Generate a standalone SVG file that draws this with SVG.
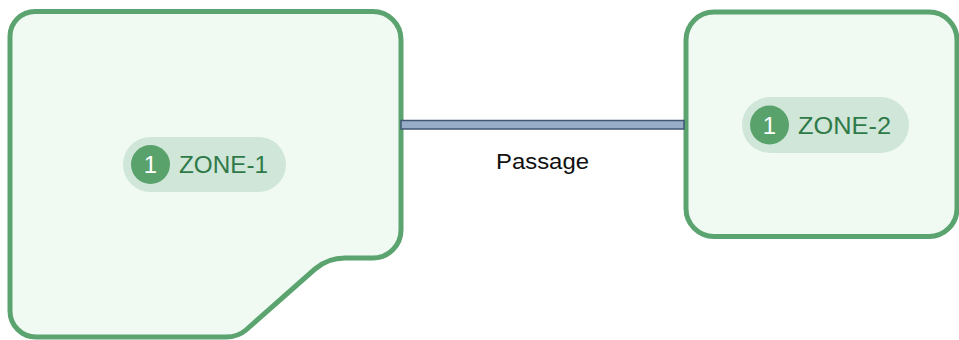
<svg xmlns="http://www.w3.org/2000/svg" width="959" height="340" viewBox="0 0 959 340">
  <style>
    .zone { fill: #f0faf3; stroke: #5ba46f; stroke-width: 5; }
    .pill { fill: #cfe6d8; }
    .badge { fill: #5aa26c; }
    .badge-txt { font-family: "Liberation Sans", Arial, sans-serif; font-size: 24px; fill: #ffffff; text-anchor: middle; }
    .zone-txt { font-family: "Liberation Sans", Arial, sans-serif; font-size: 24px; fill: #2f7a48; }
    .passage { fill: #98adc8; stroke: #3f5873; stroke-width: 1.5; }
    .label { font-family: "Liberation Sans", Arial, sans-serif; font-size: 22px; fill: #111111; }
  </style>
  <rect width="959" height="340" fill="#ffffff"/>
  <g id="zone-1">
    <path class="zone" d="M 35 11.5 H 373 A 28 28 0 0 1 401 39.5 V 230 A 28 28 0 0 1 373 258 H 345 Q 328 258 315 269 L 246 330 Q 238 337 226 337 H 36 A 26 26 0 0 1 10 311 V 36.5 A 25 25 0 0 1 35 11.5 Z"/>
    <rect class="pill" x="123" y="137" width="163" height="55" rx="27.5"/>
    <circle class="badge" cx="150.5" cy="164.5" r="19.5"/>
    <text class="badge-txt" x="150.5" y="173">1</text>
    <text class="zone-txt" x="179" y="173" textLength="89" lengthAdjust="spacingAndGlyphs">ZONE-1</text>
  </g>
  <g id="zone-2">
    <rect class="zone" x="686" y="12" width="271" height="224.5" rx="28"/>
    <rect class="pill" x="742" y="97" width="167" height="56" rx="28"/>
    <circle class="badge" cx="769.5" cy="125" r="19.5"/>
    <text class="badge-txt" x="769.5" y="133.5">1</text>
    <text class="zone-txt" x="798" y="133.5" textLength="93" lengthAdjust="spacingAndGlyphs">ZONE-2</text>
  </g>
  <g id="connectors">
    <rect class="passage" x="401" y="120.5" width="283" height="8.5"/>
    <text class="label" x="496" y="168.5" textLength="93" lengthAdjust="spacingAndGlyphs">Passage</text>
  </g>
</svg>
